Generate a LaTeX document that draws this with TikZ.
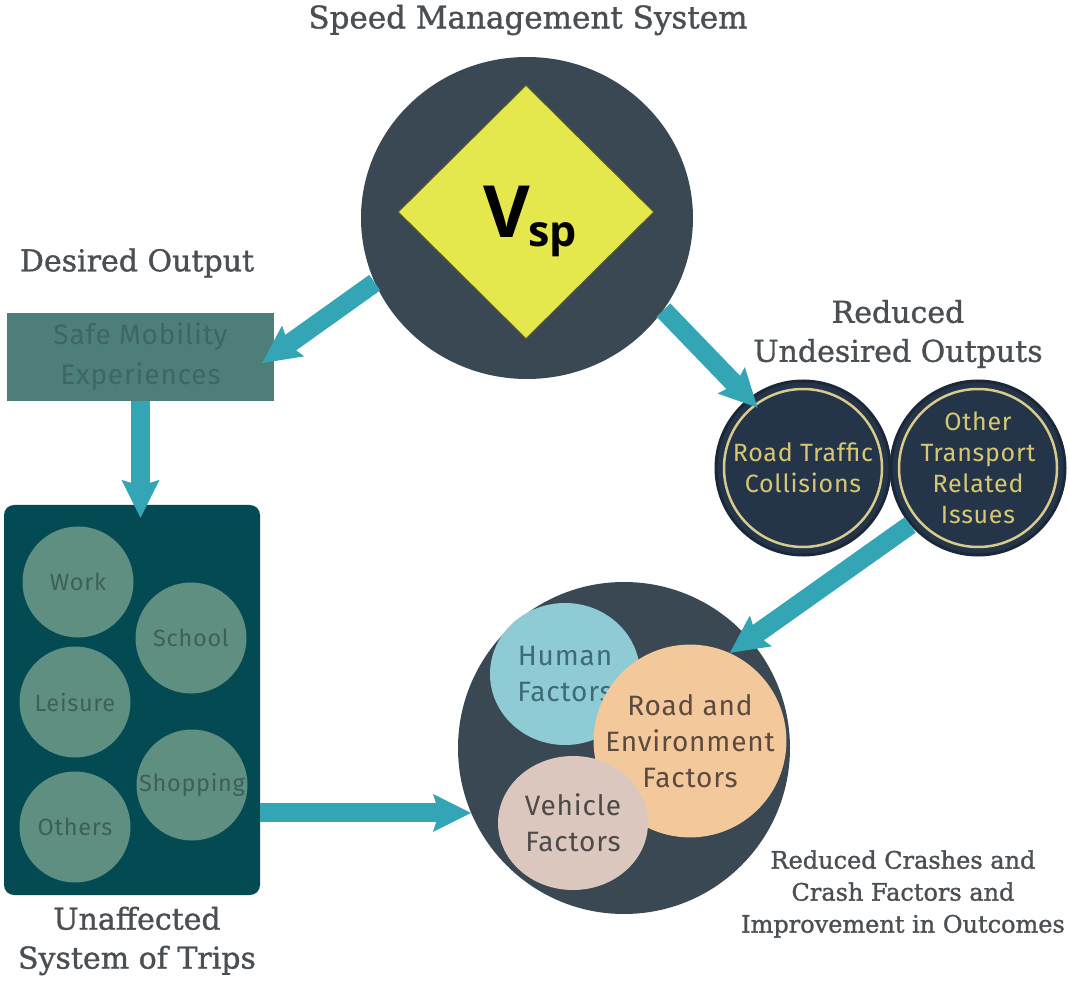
\documentclass[tikz,border=0pt]{standalone}
\usepackage{fontspec}
\setmainfont{Fira Sans}[LetterSpace=3]
\newfontfamily\headfont{DejaVu Serif}[FakeBold=1.2]
\newfontfamily\vspfont{Open Sans}
\usetikzlibrary{shapes.geometric,arrows.meta}
\definecolor{slate}{HTML}{394852}
\definecolor{signyellow}{HTML}{E4E84C}
\definecolor{signrim}{HTML}{5A5A2A}
\definecolor{flowteal}{HTML}{34A5B5}
\definecolor{safeteal}{HTML}{4E7E79}
\definecolor{safeink}{HTML}{3E6663}
\definecolor{deepteal}{HTML}{044A53}
\definecolor{tripgreen}{HTML}{5E8F80}
\definecolor{tripink}{HTML}{3F5F5A}
\definecolor{navy}{HTML}{24354A}
\definecolor{navyrim}{HTML}{1C2838}
\definecolor{gold}{HTML}{D9CB8C}
\definecolor{goldtext}{HTML}{D8C76E}
\definecolor{humanblue}{HTML}{8ECBD5}
\definecolor{humanink}{HTML}{3F6B76}
\definecolor{roadpeach}{HTML}{F3C99C}
\definecolor{roadink}{HTML}{5A4A3F}
\definecolor{vehiclerose}{HTML}{DCC7BE}
\definecolor{vehicleink}{HTML}{4D4A4A}
\definecolor{headgray}{HTML}{4A4F54}
\begin{document}
\begin{tikzpicture}[x=1pt,y=-1pt,
    head/.style={font=\headfont\fontsize{30}{39}\selectfont, text=headgray, align=center},
    flow/.style={-{Stealth[length=38pt,width=38pt,inset=6pt,line width=0pt]}, line width=19pt, draw=flowteal},
    trip/.style={circle, fill=tripgreen, minimum size=111pt, inner sep=0pt, text=tripink, font=\fontsize{23.5}{28}\selectfont},
    issue/.style={circle, fill=navy, draw=navyrim, line width=3pt, minimum size=174pt, inner sep=0pt, text=goldtext, align=center, font=\fontsize{25}{31}\selectfont},
    factor/.style={ellipse, inner sep=0pt, align=center, font=\fontsize{28}{36}\selectfont}]
    \useasboundingbox (0,0) rectangle (1069,981);
    % top: the speed management system
    \node[head, font=\headfont\fontsize{31}{40}\selectfont] (title) at (528,20) {Speed Management System};
    \node[ellipse, fill=slate, minimum width=332pt, minimum height=322pt] (sms) at (527,218) {};
    \node[diamond, fill=signyellow, draw=signrim, line width=1pt, minimum width=256pt, minimum height=254pt, inner sep=0pt] (sign) at (526,212) {};
    \node[font=\vspfont\bfseries, inner sep=0pt] (vsp) at (530,221) {{\fontsize{72}{72}\selectfont V}\kern-2pt\raisebox{-9pt}{\fontsize{43}{43}\selectfont sp}};
    % left: desired output and trips
    \node[head] (desired) at (137,263) {Desired Output};
    \node[rectangle, fill=safeteal, minimum width=267pt, minimum height=88pt, text=safeink, align=center, font=\fontsize{28}{40}\selectfont] (safe) at (140.5,357) {Safe Mobility\\Experiences};
    \node[rectangle, rounded corners=10pt, fill=deepteal, minimum width=256pt, minimum height=390pt] (trips) at (132,700) {};
    \node[trip] (work) at (78,582) {Work};
    \node[trip] (school) at (191,638) {School};
    \node[trip] (leisure) at (75,702) {Leisure};
    \node[trip] (shopping) at (192,785) {Shopping};
    \node[trip] (others) at (75,827) {Others};
    \node[head] (unaffected) at (137,941) {Unaffected\\System of Trips};
    % right: undesired outputs
    \node[head] (reduced) at (898,334) {Reduced\\Undesired Outputs};
    \node[issue] (rtc) at (803,468) {Road Traffic\\Collisions};
    \node[issue] (oti) at (978,468) {Other\\Transport\\Related\\Issues};
    \draw[gold, line width=2.5pt] (rtc.center) circle[radius=79pt];
    \draw[gold, line width=2.5pt] (oti.center) circle[radius=79pt];
    % bottom: crash factors
    \node[circle, fill=slate, minimum size=332pt] (crash) at (624,748) {};
    \node[factor, fill=humanblue, text=humanink, minimum width=150pt, minimum height=142pt] (human) at (565,674) {Human\\Factors};
    \node[factor, circle, fill=roadpeach, text=roadink, minimum size=176pt] (road) at (690,741) {Road and\\Environment\\Factors};
    \node[factor, fill=vehiclerose, text=vehicleink, minimum width=150pt, minimum height=134pt] (vehicle) at (573,823) {Vehicle\\Factors};
    \node[head, font=\headfont\fontsize{24}{32}\selectfont] (outcome) at (903,894) {Reduced Crashes and\\Crash Factors and\\Improvement in Outcomes};
    % connectors
    \draw[flow] (sms.203) -- ([xshift=-12pt,yshift=-6pt]safe.east);
    \draw[flow, shorten >=-13pt] (sms.326) -- (rtc.128);
    \draw[flow, shorten >=-13pt] (safe.south) -- (safe.south |- trips.north);
    \draw[flow, shorten >=-24pt] (oti.220) -- (crash.41);
    \draw[flow] (trips.east |- crash.203) -- (crash.203);
\end{tikzpicture}
\end{document}
